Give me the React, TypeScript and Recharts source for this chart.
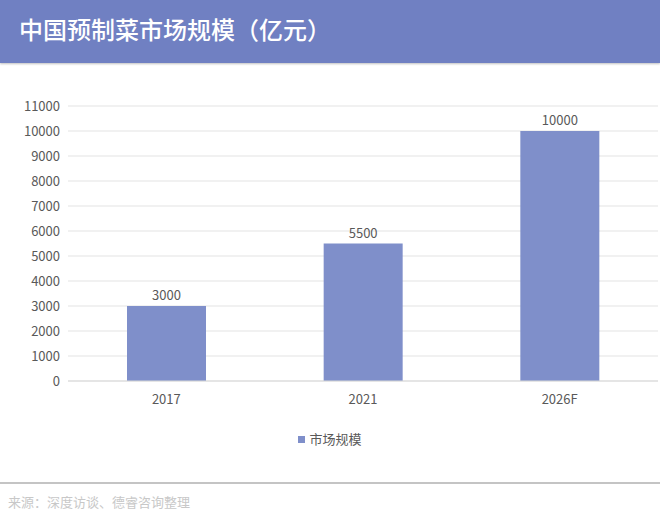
import React from 'react';
import { BarChart, Bar, XAxis, YAxis, CartesianGrid, Legend, LabelList } from 'recharts';

const categories = ['2017', '2021', '2026F'];
const marketSize = [3000, 5500, 10000];
const yTicks = [0, 1000, 2000, 3000, 4000, 5000, 6000, 7000, 8000, 9000, 10000, 11000];
const seriesName = '市场规模';
const title = '中国预制菜市场规模（亿元）';
const source = '来源：深度访谈、德睿咨询整理';

const data = categories.map((c, i) => ({ year: c, value: marketSize[i] }));

const FONT = '"Noto Sans CJK SC", "Noto Sans", sans-serif';
const BAR = '#7f8fca';

const LegendContent = () => (
  <div style={{ display: 'flex', justifyContent: 'center', alignItems: 'center', fontFamily: FONT, fontSize: 13, color: '#595959', lineHeight: '20px' }}>
    <span style={{ display: 'inline-block', width: 7, height: 7, background: BAR, marginRight: 4 }} />
    <span>{seriesName}</span>
  </div>
);

export default function App() {
  return (
    <div style={{ position: 'absolute', left: 0, top: 0, width: 660, height: 525, background: '#fff', overflow: 'hidden' }}>
      <div style={{ position: 'absolute', left: 0, top: 0, width: 660, height: 63, background: '#7080c2', boxShadow: '0 1px 2px rgba(0,0,0,0.25)' }}>
        <div style={{ position: 'absolute', left: 19, top: 13, color: '#fff', fontFamily: FONT, fontSize: 24, fontWeight: 500, lineHeight: '32px', whiteSpace: 'nowrap' }}>{title}</div>
      </div>
      <div style={{ position: 'absolute', left: 0, top: 0 }}>
        <BarChart width={660} height={525} data={data} margin={{ top: 106, right: 2, left: 0, bottom: 94 }} barCategoryGap="30%">
          <CartesianGrid vertical={false} stroke="#e3e3e3" />
          <XAxis dataKey="year" axisLine={{ stroke: '#d9d9d9' }} tickLine={false} tickMargin={8} height={30}
            tick={{ fill: '#595959', fontSize: 13, fontFamily: FONT }} />
          <YAxis width={68} domain={[0, 11000]} ticks={yTicks} axisLine={false} tickLine={false}
            tick={{ fill: '#595959', fontSize: 13, fontFamily: FONT }} interval={0} />
          <Legend content={<LegendContent />} wrapperStyle={{ position: 'absolute', top: 429, left: 0, width: 660 }} />
          <Bar dataKey="value" name={seriesName} fill={BAR} barSize={79} isAnimationActive={false}>
            <LabelList dataKey="value" position="top" offset={6} fill="#595959" fontSize={13} fontFamily={FONT} />
          </Bar>
        </BarChart>
      </div>
      <div style={{ position: 'absolute', left: 0, top: 482, width: 660, height: 2, background: '#c4c4c4' }} />
      <div style={{ position: 'absolute', left: 8, top: 492, color: '#c8c8c8', fontFamily: FONT, fontSize: 13, lineHeight: '20px', whiteSpace: 'nowrap' }}>{source}</div>
    </div>
  );
}
